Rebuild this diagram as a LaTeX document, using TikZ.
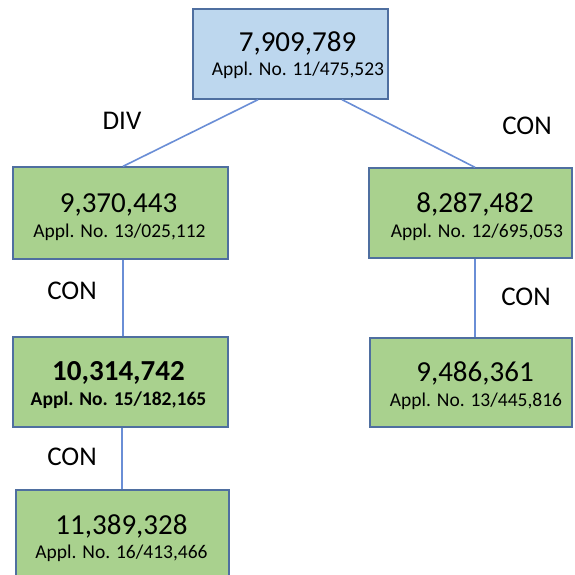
\documentclass[tikz,border=0pt]{standalone}
\usepackage{fontspec}
\setmainfont{Carlito}
\definecolor{bluefill}{HTML}{BDD7EE}
\definecolor{greenfill}{HTML}{A9D18E}
\definecolor{boxborder}{HTML}{4F6FA0}
\definecolor{connblue}{HTML}{6A8ED6}
\tikzset{
  pbox/.style={draw=boxborder, line width=1.3pt, minimum width=#1, inner sep=0pt},
  bluebox/.style={fill=bluefill},
  greenbox/.style={fill=greenfill},
  numtxt/.style={anchor=base, inner sep=0pt, font=\fontsize{29}{32}\selectfont},
  appltxt/.style={anchor=base, inner sep=0pt, font=\fontsize{19.5}{22}\selectfont},
  numbold/.style={numtxt, font=\fontsize{29}{32}\selectfont\bfseries},
  applbold/.style={appltxt, font=\fontsize{19.5}{22}\selectfont\bfseries},
  lbl/.style={inner sep=0pt, font=\fontsize{27}{30}\selectfont},
  conn/.style={draw=connblue, line width=1.6pt}
}
\begin{document}
\begin{tikzpicture}[x=1pt,y=-1pt]
\useasboundingbox (0,0) rectangle (574,575);
\fill[white] (0,0) rectangle (574,575);
% boxes
\node[pbox=195pt, bluebox, minimum height=90pt] (top) at (290.5,54) {};
\node[pbox=215pt, greenbox, minimum height=92pt] (b2) at (120.5,213) {};
\node[pbox=203pt, greenbox, minimum height=90pt] (b3) at (470.5,213) {};
\node[pbox=215pt, greenbox, minimum height=90pt] (b4) at (120.5,382) {};
\node[pbox=202pt, greenbox, minimum height=89pt] (b5) at (471,382.5) {};
\node[pbox=213pt, greenbox, minimum height=90pt] (b6) at (122.5,535) {};
% texts
\node[numtxt] (t1n) at (297.5,52) {7,909,789};
\node[appltxt] (t1a) at (298,76) {Appl. No. 11/475,523};
\node[numtxt] (t2n) at (118.5,212) {9,370,443};
\node[appltxt] (t2a) at (119.5,237) {Appl. No. 13/025,112};
\node[numtxt] (t3n) at (475,212) {8,287,482};
\node[appltxt] (t3a) at (477,237) {Appl. No. 12/695,053};
\node[numbold] (t4n) at (118.5,380) {10,314,742};
\node[applbold] (t4a) at (118.5,405) {Appl. No. 15/182,165};
\node[numtxt] (t5n) at (475,381) {9,486,361};
\node[appltxt] (t5a) at (476,406) {Appl. No. 13/445,816};
\node[numtxt] (t6n) at (121.5,534) {11,389,328};
\node[appltxt] (t6a) at (121.5,558) {Appl. No. 16/413,466};
% connectors
\draw[conn] ([xshift=-32.5pt]top.south) -- ([xshift=2.5pt]b2.north);
\draw[conn] ([xshift=51.5pt]top.south) -- ([xshift=4.5pt]b3.north);
\draw[conn] ([xshift=2.5pt]b2.south) -- ([xshift=2.5pt]b4.north);
\draw[conn] ([xshift=4.5pt]b3.south) -- ([xshift=4pt]b5.north);
\draw[conn] ([xshift=1.5pt]b4.south) -- ([xshift=-0.5pt]b6.north);
% labels
\node[lbl] (l1) at (122,121) {DIV};
\node[lbl] (l2) at (527,126) {CON};
\node[lbl] (l3) at (72,291) {CON};
\node[lbl] (l4) at (526,297) {CON};
\node[lbl] (l5) at (72,457) {CON};
\end{tikzpicture}
\end{document}
